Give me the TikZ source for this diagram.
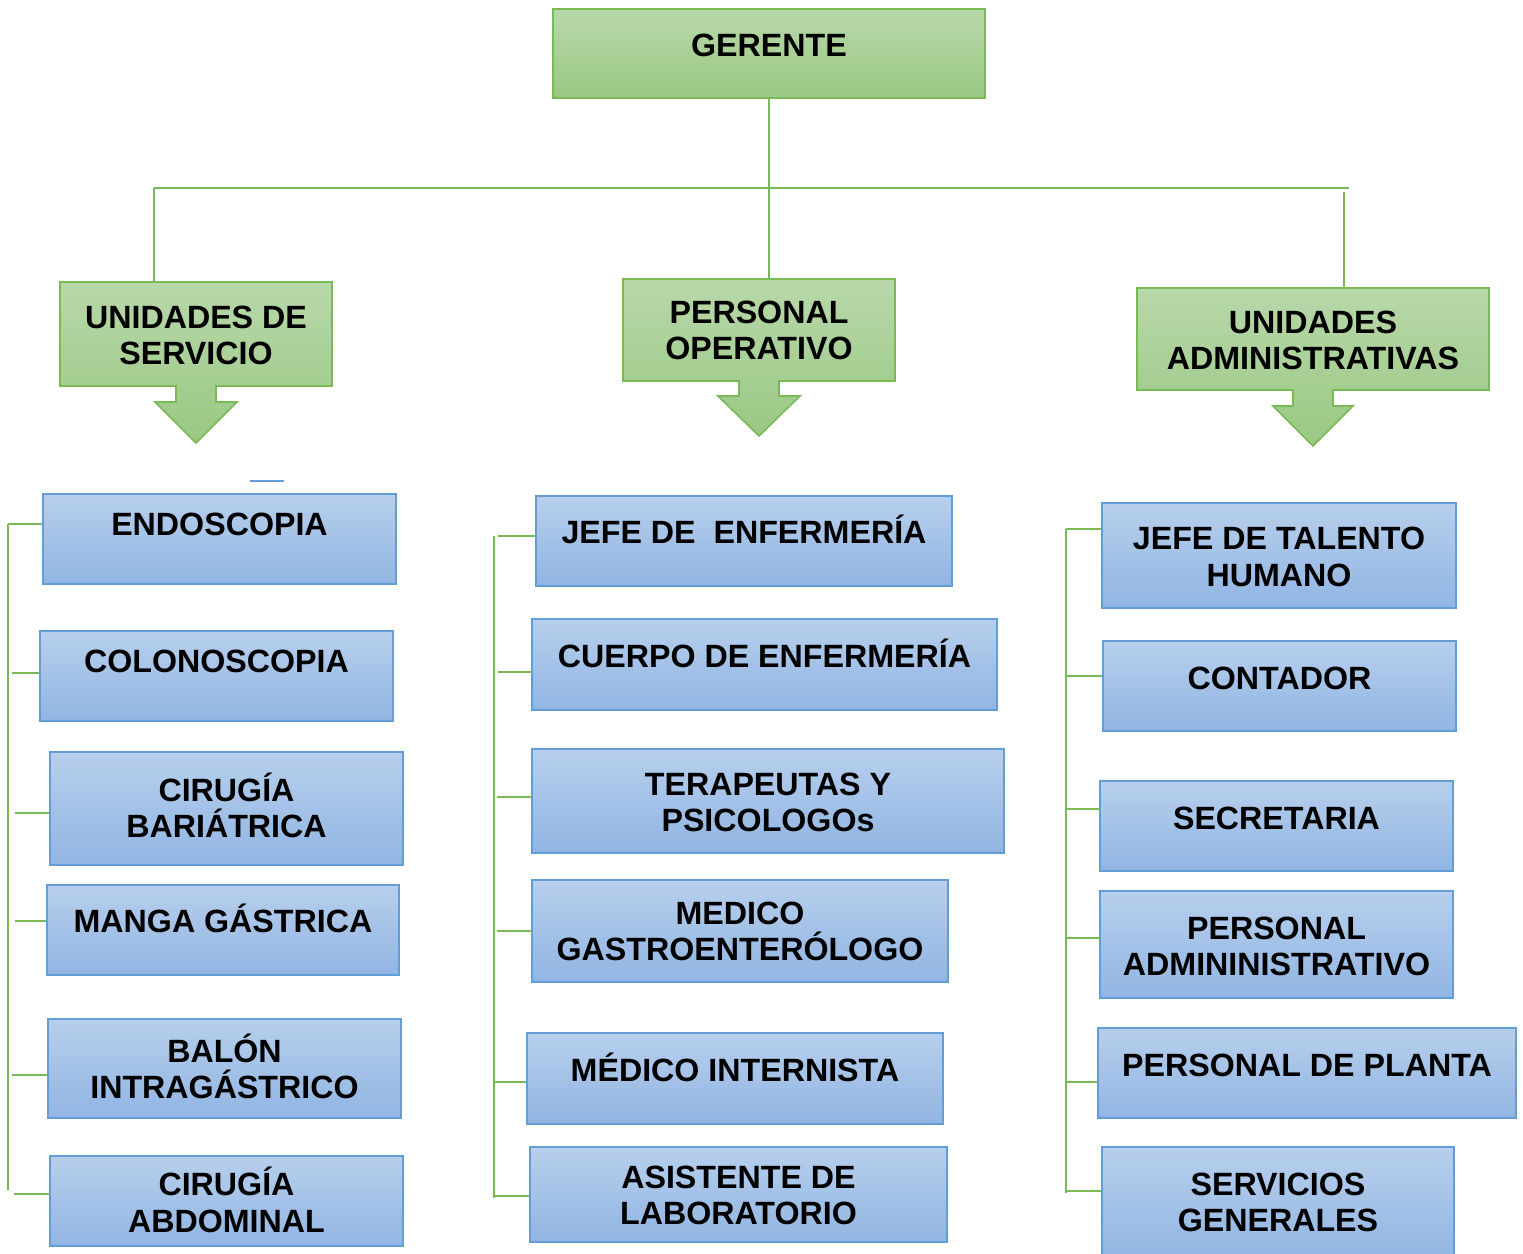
\documentclass[tikz,border=0pt]{standalone}
\usepackage{fontspec}
\setmainfont{Liberation Sans}
\usetikzlibrary{fit}
\definecolor{gtop}{RGB}{184,216,170}
\definecolor{gbot}{RGB}{154,200,131}
\definecolor{gline}{RGB}{122,186,84}
\definecolor{btop}{RGB}{183,207,236}
\definecolor{bbot}{RGB}{145,181,227}
\definecolor{bline}{RGB}{98,157,215}
\newcommand\tl[4]{\node[txt] (#1) at ({#2},{#3+11}) {#4};}
\begin{document}
\begin{tikzpicture}[x=0.5pt,y=-0.5pt,
  bluebox/.style={draw=bline, line width=0.8pt, top color=btop, bottom color=bbot, inner sep=0pt},
  greenbox/.style={draw=gline, line width=0.8pt, top color=gtop, bottom color=gbot, inner sep=0pt},
  callout/.style={draw=gline, line width=0.8pt, top color=gtop, bottom color=gbot, line join=miter},
  frame/.style={inner sep=0pt},
  conn/.style={draw=gline, line width=0.8pt},
  txt/.style={font=\bfseries\fontsize{16.1}{18}\selectfont, anchor=base, inner sep=0pt, text=black}]
\useasboundingbox (0,0) rectangle (1523,1254);

% ---------- top ----------
\node[greenbox, fit={(553,9)(985,98)}] (ger) {};
\tl{tger}{769}{45}{GERENTE}

% callouts
\path[callout] (60,282) -- (332,282) -- (332,386) -- (216,386) -- (216,402) -- (237,402) -- (196,443) -- (155,402) -- (176,402) -- (176,386) -- (60,386) -- cycle;
\node[frame, fit={(60,282)(332,386)}] (us) {};
\path[callout] (623,279) -- (895,279) -- (895,381) -- (779,381) -- (779,396) -- (800,396) -- (759,436) -- (718,396) -- (739,396) -- (739,381) -- (623,381) -- cycle;
\node[frame, fit={(623,279)(895,381)}] (po) {};
\path[callout] (1137,288) -- (1489,288) -- (1489,390) -- (1333,390) -- (1333,406) -- (1353,406) -- (1313,446) -- (1273,406) -- (1293,406) -- (1293,390) -- (1137,390) -- cycle;
\node[frame, fit={(1137,288)(1489,390)}] (ua) {};

\tl{tus1}{196}{317}{UNIDADES DE}
\tl{tus2}{196}{353}{SERVICIO}
\tl{tpo1}{759}{312}{PERSONAL}
\tl{tpo2}{759}{348}{OPERATIVO}
\tl{tua1}{1313}{322}{UNIDADES}
\tl{tua2}{1313}{358}{ADMINISTRATIVAS}

% top connectors
\coordinate (hL) at (154,188);
\coordinate (hM) at (769,188);
\coordinate (hR) at (1349,188);
\coordinate (hR2) at (1344,192);
\draw[conn] (ger.south) -- (hM);
\draw[conn] (hL) -- (hR);
\draw[conn] (hL) -- (hL |- us.north);
\draw[conn] (hM) -- (hM |- po.north);
\draw[conn] (hR2) -- (hR2 |- ua.north);

% stray short blue line
\coordinate (sb1) at (250,481);
\coordinate (sb2) at (284,481);
\draw[draw=bline, line width=0.8pt] (sb1) -- (sb2);

% ---------- left column ----------
\node[bluebox, fit={(43,494)(396,584)}] (l1) {};
\node[bluebox, fit={(40,631)(393,721)}] (l2) {};
\node[bluebox, fit={(50,752)(403,865)}] (l3) {};
\node[bluebox, fit={(47,885)(399,975)}] (l4) {};
\node[bluebox, fit={(48,1019)(401,1118)}] (l5) {};
\node[bluebox, fit={(50,1156)(403,1246)}] (l6) {};
\tl{tl1}{219.5}{524}{ENDOSCOPIA}
\tl{tl2}{216.5}{661}{COLONOSCOPIA}
\tl{tl3a}{226.5}{790}{CIRUGÍA}
\tl{tl3b}{226.5}{826}{BARIÁTRICA}
\tl{tl4}{223}{921}{MANGA GÁSTRICA}
\tl{tl5a}{224.5}{1051}{BALÓN}
\tl{tl5b}{224.5}{1087}{INTRAGÁSTRICO}
\tl{tl6a}{226.5}{1184}{CIRUGÍA}
\tl{tl6b}{226.5}{1221}{ABDOMINAL}

\coordinate (Lt) at (8,524);
\coordinate (Lb) at (8,1190);
\draw[conn] (Lt) -- (Lb);
\draw[conn] (Lt) -- (l1.west |- Lt);
\draw[conn] (12,673) -- (l2.west |- 12,673);
\draw[conn] (15,813) -- (l3.west |- 15,813);
\draw[conn] (15,921) -- (l4.west |- 15,921);
\draw[conn] (12,1075) -- (l5.west |- 12,1075);
\draw[conn] (14,1194) -- (l6.west |- 14,1194);

% ---------- middle column ----------
\node[bluebox, fit={(536,496)(952,586)}] (m1) {};
\node[bluebox, fit={(532,619)(997,710)}] (m2) {};
\node[bluebox, fit={(532,749)(1004,853)}] (m3) {};
\node[bluebox, fit={(532,880)(948,982)}] (m4) {};
\node[bluebox, fit={(527,1033)(943,1124)}] (m5) {};
\node[bluebox, fit={(530,1147)(947,1242)}] (m6) {};
\tl{tm1}{744}{532}{JEFE DE\ \ ENFERMERÍA}
\tl{tm2}{764.5}{656}{CUERPO DE ENFERMERÍA}
\tl{tm3a}{768}{784}{TERAPEUTAS Y}
\tl{tm3b}{768}{820}{PSICOLOGOs}
\tl{tm4a}{740}{913}{MEDICO}
\tl{tm4b}{740}{949}{GASTROENTERÓLOGO}
\tl{tm5}{735}{1070}{MÉDICO INTERNISTA}
\tl{tm6a}{738.5}{1177}{ASISTENTE DE}
\tl{tm6b}{738.5}{1213}{LABORATORIO}

\coordinate (Mt) at (494,536);
\coordinate (Mb) at (494,1198);
\draw[conn] (Mt) -- (Mb);
\draw[conn] (498,536) -- (m1.west |- 498,536);
\draw[conn] (498,672) -- (m2.west |- 498,672);
\draw[conn] (497,797) -- (m3.west |- 497,797);
\draw[conn] (497,931) -- (m4.west |- 497,931);
\draw[conn] (495,1082) -- (m5.west |- 495,1082);
\draw[conn] (495,1196) -- (m6.west |- 495,1196);

% ---------- right column ----------
\node[bluebox, fit={(1102,503)(1456,608)}] (r1) {};
\node[bluebox, fit={(1103,641)(1456,731)}] (r2) {};
\node[bluebox, fit={(1100,781)(1453,871)}] (r3) {};
\node[bluebox, fit={(1100,891)(1453,998)}] (r4) {};
\node[bluebox, fit={(1098,1028)(1516,1118)}] (r5) {};
\node[bluebox, fit={(1102,1147)(1454,1260)}] (r6) {};
\tl{tr1a}{1279}{538}{JEFE DE TALENTO}
\tl{tr1b}{1279}{575}{HUMANO}
\tl{tr2}{1279.5}{678}{CONTADOR}
\tl{tr3}{1276.5}{818}{SECRETARIA}
\tl{tr4a}{1276.5}{928}{PERSONAL}
\tl{tr4b}{1276.5}{964}{ADMININISTRATIVO}
\tl{tr5}{1307}{1065}{PERSONAL DE PLANTA}
\tl{tr6a}{1278}{1184}{SERVICIOS}
\tl{tr6b}{1278}{1220}{GENERALES}

\coordinate (Rt) at (1066,529);
\coordinate (Rb) at (1066,1193);
\draw[conn] (Rt) -- (Rb);
\draw[conn] (Rt) -- (r1.west |- Rt);
\draw[conn] (1066,676) -- (r2.west |- 1066,676);
\draw[conn] (1066,809) -- (r3.west |- 1066,809);
\draw[conn] (1066,938) -- (r4.west |- 1066,938);
\draw[conn] (1066,1082) -- (r5.west |- 1066,1082);
\draw[conn] (1066,1191) -- (r6.west |- 1066,1191);
\end{tikzpicture}
\end{document}
